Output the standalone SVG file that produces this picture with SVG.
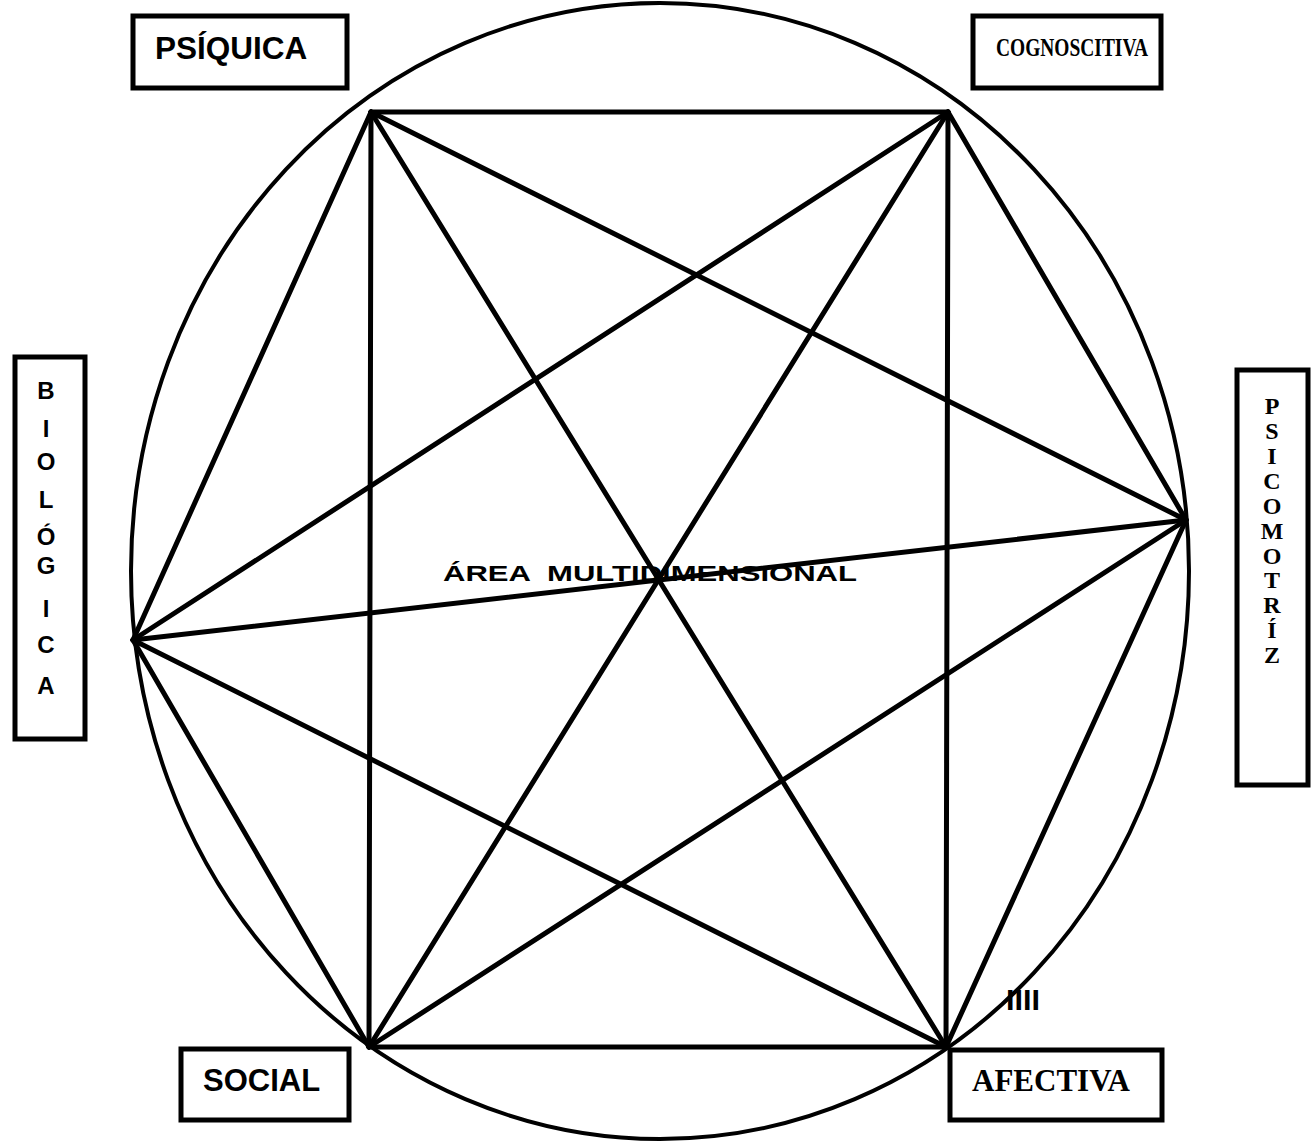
<svg xmlns="http://www.w3.org/2000/svg" width="1311" height="1142" viewBox="0 0 1311 1142">
<style>
.box{fill:#fff;stroke:#000;stroke-width:5}
.sans{font-family:"Liberation Sans",Arial,sans-serif;font-weight:bold;fill:#000}
.serif{font-family:"Liberation Serif","Times New Roman",serif;font-weight:bold;fill:#000}
.edge{stroke:#000;stroke-width:5;stroke-linecap:round;fill:none}
</style>
<rect width="1311" height="1142" fill="#fff"/>
<g id="circle">
<ellipse cx="660" cy="571" rx="529" ry="568" fill="none" stroke="#000" stroke-width="4"/>
</g>
<g id="connectors">
<line class="edge" x1="371" y1="112" x2="948" y2="112"/>
<line class="edge" x1="371" y1="112" x2="1186" y2="520"/>
<line class="edge" x1="371" y1="112" x2="946" y2="1047"/>
<line class="edge" x1="371" y1="112" x2="369" y2="1047"/>
<line class="edge" x1="371" y1="112" x2="133" y2="640"/>
<line class="edge" x1="948" y1="112" x2="1186" y2="520"/>
<line class="edge" x1="948" y1="112" x2="946" y2="1047"/>
<line class="edge" x1="948" y1="112" x2="369" y2="1047"/>
<line class="edge" x1="948" y1="112" x2="133" y2="640"/>
<line class="edge" x1="1186" y1="520" x2="946" y2="1047"/>
<line class="edge" x1="1186" y1="520" x2="369" y2="1047"/>
<line class="edge" x1="1186" y1="520" x2="133" y2="640"/>
<line class="edge" x1="946" y1="1047" x2="369" y2="1047"/>
<line class="edge" x1="946" y1="1047" x2="133" y2="640"/>
<line class="edge" x1="369" y1="1047" x2="133" y2="640"/>
</g>
<g id="center-label">
<text class="sans" x="443" y="581" font-size="22" textLength="414" lengthAdjust="spacingAndGlyphs" style="white-space:pre">ÁREA  MULTIDIMENSIONAL</text>
</g>
<g id="mark">
<text class="sans" x="1006" y="1010" font-size="30" textLength="34" lengthAdjust="spacingAndGlyphs">IIII</text>
</g>
<g id="psiquica">
<rect class="box" x="133" y="16" width="214" height="72"/>
<text class="sans" x="155" y="59" font-size="31.5">PSÍQUICA</text>
</g>
<g id="cognoscitiva">
<rect class="box" x="973" y="16" width="188" height="72"/>
<text class="serif" x="996" y="56" font-size="26" textLength="152" lengthAdjust="spacingAndGlyphs">COGNOSCITIVA</text>
</g>
<g id="biologica">
<rect class="box" x="15" y="357" width="70" height="382"/>
<g class="sans" font-size="24" text-anchor="middle">
<text x="46" y="399">B</text>
<text x="46" y="437">I</text>
<text x="46" y="470">O</text>
<text x="46" y="508">L</text>
<text x="46" y="545">Ó</text>
<text x="46" y="574">G</text>
<text x="46" y="617">I</text>
<text x="46" y="653">C</text>
<text x="46" y="694">A</text>
</g>
</g>
<g id="psicomotriz">
<rect class="box" x="1237" y="370" width="71" height="415"/>
<g class="serif" font-size="24" text-anchor="middle">
<text x="1272" y="414">P</text>
<text x="1272" y="439">S</text>
<text x="1272" y="464">I</text>
<text x="1272" y="489">C</text>
<text x="1272" y="514">O</text>
<text x="1272" y="539">M</text>
<text x="1272" y="564">O</text>
<text x="1272" y="588">T</text>
<text x="1272" y="613">R</text>
<text x="1272" y="638">Í</text>
<text x="1272" y="663">Z</text>
</g>
</g>
<g id="social">
<rect class="box" x="181" y="1049" width="168" height="71"/>
<text class="sans" x="203" y="1091" font-size="31">SOCIAL</text>
</g>
<g id="afectiva">
<rect class="box" x="950" y="1050" width="212" height="70"/>
<text class="serif" x="972" y="1091" font-size="31">AFECTIVA</text>
</g>
</svg>
